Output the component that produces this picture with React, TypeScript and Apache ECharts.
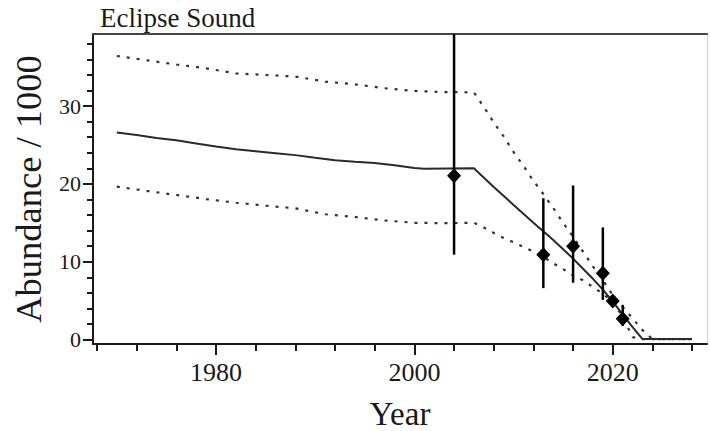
import React, { useEffect, useRef } from "react";
import * as echarts from "echarts";

const titleText = "Eclipse Sound";
const xAxisTitle = "Year";
const yAxisTitle = "Abundance / 1000";

const fitYears = [1970, 1972, 1974, 1976, 1978, 1980, 1982, 1984, 1986, 1988, 1990, 1992, 1994, 1996, 1998, 2000, 2001, 2006, 2008, 2010, 2012, 2014, 2016, 2017, 2018, 2019, 2020, 2021, 2022, 2023, 2028];
const fitValues = [26.6, 26.3, 25.9, 25.6, 25.2, 24.8, 24.45, 24.2, 23.95, 23.7, 23.35, 23.05, 22.85, 22.7, 22.4, 22.05, 21.95, 22.0, 19.6, 17.3, 15.0, 12.8, 10.4, 9.1, 7.8, 6.4, 4.9, 3.2, 1.6, 0.05, 0.05];

const upperYears = [1970, 1973, 1976, 1979, 1982, 1985, 1988, 1991, 1994, 1997, 2000, 2003, 2006, 2007, 2008, 2009, 2010, 2011, 2012, 2013, 2014, 2015, 2016, 2017, 2018, 2019, 2020, 2021, 2022, 2023, 2024, 2028];
const upperValues = [36.44, 35.9, 35.35, 34.86, 34.2, 34.0, 33.8, 33.15, 32.8, 32.3, 31.95, 31.8, 31.77, 29.9, 27.9, 26.1, 24.1, 22.3, 20.4, 18.7, 16.9, 15.0, 13.2, 11.3, 9.4, 7.6, 5.7, 4.2, 2.7, 1.2, 0.05, 0.05];

const lowerYears = [1970, 1973, 1976, 1979, 1982, 1985, 1988, 1991, 1994, 1997, 2000, 2003, 2006, 2007, 2008, 2009, 2010, 2011, 2012, 2013, 2014, 2015, 2016, 2017, 2018, 2019, 2020, 2021, 2022, 2023, 2028];
const lowerValues = [19.64, 19.1, 18.57, 18.05, 17.58, 17.2, 16.86, 16.1, 15.75, 15.3, 15.0, 14.95, 15.0, 14.4, 13.7, 13.05, 12.5, 11.9, 11.3, 10.6, 9.8, 9.05, 8.2, 7.6, 6.75, 5.9, 4.8, 2.95, 0.3, 0.05, 0.05];

const obsYears = [2004, 2013, 2016, 2019, 2020, 2021];
const obsValues = [21.05, 10.9, 12.0, 8.5, 4.95, 2.65];
const obsLow = [10.9, 6.6, 7.3, 5.1, 4.4, 1.75];
const obsHigh = [42, 18.15, 19.8, 14.4, 5.6, 4.45];

const xMajorTicks = [1980, 2000, 2020];
const xMinorTicks = [1968, 1972, 1976, 1980, 1984, 1988, 1992, 1996, 2000, 2004, 2008, 2012, 2016, 2020, 2024, 2028];
const yMajorTicks = [0, 10, 20, 30];
const yMinorTicks = [0, 2, 4, 6, 8, 10, 12, 14, 16, 18, 20, 22, 24, 26, 28, 30, 32, 34, 36, 38];

const X_MIN = 1967.6;
const X_MAX = 2029.5;
const Y_MIN = -0.58;
const Y_MAX = 39.27;

const FONT = "Liberation Serif";
const INK = "#1a1a1a";

export default function App() {
  const ref = useRef<HTMLDivElement>(null);

  useEffect(() => {
    if (!ref.current) return;
    const chart = echarts.init(ref.current, null, { renderer: "svg" });

    const pairs = (xs: number[], ys: number[]) => xs.map((x, i) => [x, ys[i]]);

    const baseX = {
      type: "value",
      min: X_MIN,
      max: X_MAX,
      splitLine: { show: false },
    };
    const baseY = {
      type: "value",
      min: Y_MIN,
      max: Y_MAX,
      splitLine: { show: false },
    };

    const option: any = {
      animation: false,
      backgroundColor: "#ffffff",
      textStyle: { fontFamily: FONT },
      grid: { left: 93, top: 34, right: 3, bottom: 87, containLabel: false, outerBoundsMode: "none" },
      xAxis: [
        {
          ...baseX,
          position: "bottom",
          name: xAxisTitle,
          nameLocation: "middle",
          nameGap: 53,
          nameTextStyle: { fontFamily: FONT, fontSize: 33, color: INK },
          axisLine: { show: true, onZero: false, lineStyle: { color: INK, width: 2 } },
          axisTick: { show: true, customValues: xMajorTicks, length: 11, lineStyle: { color: INK, width: 2 } },
          axisLabel: {
            show: true,
            customValues: xMajorTicks,
            margin: 15,
            fontFamily: FONT,
            fontSize: 26,
            color: INK,
            formatter: (v: number) => String(Math.round(v)),
          },
        },
        {
          ...baseX,
          position: "bottom",
          axisLine: { show: false, onZero: false },
          axisTick: { show: true, customValues: xMinorTicks, length: 7, lineStyle: { color: INK, width: 2 } },
          axisLabel: { show: false },
        },
        {
          ...baseX,
          position: "top",
          name: titleText,
          nameLocation: "start",
          nameGap: 0,
          nameTextStyle: {
            fontFamily: FONT,
            fontSize: 27,
            color: INK,
            align: "left",
            verticalAlign: "bottom",
            padding: [0, 0, 3, 7],
          },
          axisLine: { show: true, onZero: false, lineStyle: { color: "#444", width: 2 } },
          axisTick: { show: false },
          axisLabel: { show: false },
        },
      ],
      yAxis: [
        {
          ...baseY,
          position: "left",
          name: yAxisTitle,
          nameLocation: "middle",
          nameGap: 46,
          nameRotate: 90,
          nameTextStyle: { fontFamily: FONT, fontSize: 36.5, color: INK },
          axisLine: { show: true, onZero: false, lineStyle: { color: INK, width: 2 } },
          axisTick: { show: true, customValues: yMajorTicks, length: 10, lineStyle: { color: INK, width: 2 } },
          axisLabel: {
            show: true,
            customValues: yMajorTicks,
            margin: 12,
            fontFamily: FONT,
            fontSize: 22,
            color: INK,
            formatter: (v: number) => String(Math.round(v)),
          },
        },
        {
          ...baseY,
          position: "left",
          axisLine: { show: false, onZero: false },
          axisTick: { show: true, customValues: yMinorTicks, length: 6, lineStyle: { color: INK, width: 2 } },
          axisLabel: { show: false },
        },
        {
          ...baseY,
          position: "right",
          axisLine: { show: true, onZero: false, lineStyle: { color: "#d0d0d0", width: 1 } },
          axisTick: { show: false },
          axisLabel: { show: false },
        },
      ],
      series: [
        {
          type: "line",
          data: pairs(upperYears, upperValues),
          showSymbol: false,
          symbol: "none",
          lineStyle: { color: "#333", width: 2.2, type: [3, 7] },
          z: 2,
        },
        {
          type: "line",
          data: pairs(lowerYears, lowerValues),
          showSymbol: false,
          symbol: "none",
          lineStyle: { color: "#333", width: 2.2, type: [3, 7] },
          z: 2,
        },
        {
          type: "line",
          data: pairs(fitYears, fitValues),
          showSymbol: false,
          symbol: "none",
          lineStyle: { color: "#2a2a2a", width: 2 },
          z: 3,
        },
        {
          type: "custom",
          clip: true,
          data: obsYears.map((y, i) => [y, obsLow[i], obsHigh[i]]),
          encode: { x: 0, y: [1, 2] },
          renderItem: (params: any, api: any) => {
            const p1 = api.coord([api.value(0), api.value(1)]);
            const p2 = api.coord([api.value(0), api.value(2)]);
            const cs = params.coordSys;
            const top = Math.max(p2[1], cs.y);
            return {
              type: "line",
              shape: { x1: p1[0], y1: p1[1], x2: p2[0], y2: top },
              style: { stroke: "#000", lineWidth: 2.5 },
            };
          },
          z: 4,
        },
        {
          type: "scatter",
          data: pairs(obsYears, obsValues),
          symbol: "diamond",
          symbolSize: [14, 15],
          itemStyle: { color: "#000", opacity: 1 },
          z: 5,
        },
      ],
    };

    chart.setOption(option);
    return () => {
      chart.dispose();
    };
  }, []);

  return (
    <div
      ref={ref}
      style={{ position: "fixed", left: 0, top: 0, width: 710, height: 431, background: "#fff" }}
    />
  );
}
